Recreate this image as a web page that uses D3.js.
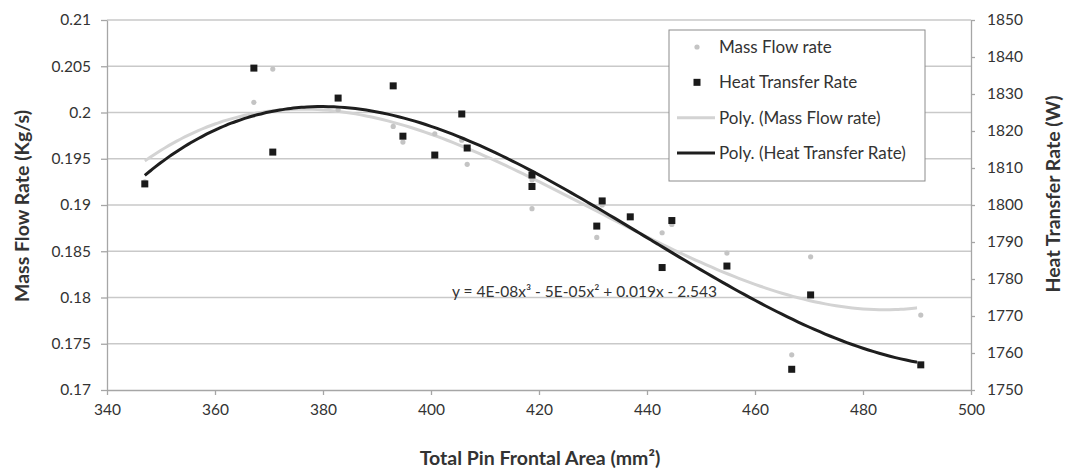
<!DOCTYPE html>
<html>
<head>
<meta charset="utf-8">
<script src="https://cdn.jsdelivr.net/npm/d3@7"></script>
<style>
  body { margin:0; background:#fff; }
  svg text { font-family: Lato, "Open Sans", sans-serif; fill:#333; }
</style>
</head>
<body>
<svg id="chart" width="1067" height="471"></svg>
<script>
// --- data ------------------------------------------------------------------
const frontalArea = [347.0, 367.2, 370.7, 382.8, 393.0, 394.8, 400.7, 405.7, 406.7, 418.7,
                     418.7, 430.7, 431.7, 436.9, 442.8, 444.6, 454.8, 466.8, 470.3, 490.7];
const massFlow    = [0.1925, 0.2011, 0.2047, 0.2003, 0.1985, 0.1968, 0.1977, 0.1970, 0.1944, 0.1927,
                     0.1896, 0.1865, 0.1900, 0.1887, 0.1870, 0.1879, 0.1848, 0.1738, 0.1844, 0.1781];
const heatRate    = [1805.7, 1837.0, 1814.3, 1828.9, 1832.2, 1818.6, 1813.5, 1824.6, 1815.4, 1808.1,
                     1805.0, 1794.3, 1801.1, 1796.8, 1783.1, 1795.8, 1783.5, 1755.6, 1775.7, 1756.8];
const xTicks = [340, 360, 380, 400, 420, 440, 460, 480, 500];
const leftTicks = [0.17, 0.175, 0.18, 0.185, 0.19, 0.195, 0.2, 0.205, 0.21];
const rightTicks = [1750, 1760, 1770, 1780, 1790, 1800, 1810, 1820, 1830, 1840, 1850];
const legendItems = ['Mass Flow rate', 'Heat Transfer Rate', 'Poly. (Mass Flow rate)', 'Poly. (Heat Transfer Rate)'];
const equationText = 'y = 4E-08x³ - 5E-05x² + 0.019x - 2.543';

// --- helpers ---------------------------------------------------------------
// least squares cubic (Excel style "Poly." trendline), x centred for stability
function cubicFit(xs, ys){
  const m = d3.mean(xs);
  const rows = xs.map(x => { const u = (x-m)/50; return [1, u, u*u, u*u*u]; });
  const A = [[0,0,0,0],[0,0,0,0],[0,0,0,0],[0,0,0,0]], b = [0,0,0,0];
  rows.forEach((r,k)=>{
    for(let i=0;i<4;i++){ b[i]+=r[i]*ys[k]; for(let j=0;j<4;j++) A[i][j]+=r[i]*r[j]; }
  });
  // gaussian elimination
  for(let i=0;i<4;i++){
    for(let k=i+1;k<4;k++){
      const f = A[k][i]/A[i][i];
      for(let j=i;j<4;j++) A[k][j]-=f*A[i][j];
      b[k]-=f*b[i];
    }
  }
  const c=[0,0,0,0];
  for(let i=3;i>=0;i--){
    let s=b[i]; for(let j=i+1;j<4;j++) s-=A[i][j]*c[j];
    c[i]=s/A[i][i];
  }
  return x => { const u=(x-m)/50; return c[0]+c[1]*u+c[2]*u*u+c[3]*u*u*u; };
}

// --- layout ----------------------------------------------------------------
const svg = d3.select('#chart');
const M = {left:107, right:971, top:20, bottom:390};

const x  = d3.scaleLinear().domain([340,500]).range([M.left, M.right]);
const yL = d3.scaleLinear().domain([0.17,0.21]).range([M.bottom, M.top]);
const yR = d3.scaleLinear().domain([1750,1850]).range([M.bottom, M.top]);

// gridlines
svg.append('g').selectAll('line')
  .data(leftTicks.slice(1))
  .join('line')
  .attr('x1', M.left).attr('x2', M.right)
  .attr('y1', d=>yL(d)).attr('y2', d=>yL(d))
  .attr('stroke', '#c9c9c9').attr('stroke-width', 1.5);

// axes
const axisStyle = g => {
  g.select('.domain').attr('stroke', '#a6a6a6').attr('stroke-width', 1.3);
  g.selectAll('.tick line').attr('stroke', '#a6a6a6').attr('stroke-width', 1.3);
  g.selectAll('.tick text').style('font-size', '15.5px').attr('fill', '#404040');
};

svg.append('g').attr('transform', `translate(0,${M.bottom})`)
  .call(d3.axisBottom(x).tickValues(xTicks).tickSize(5).tickSizeOuter(0).tickPadding(9).tickFormat(d3.format('d')))
  .call(axisStyle);

svg.append('g').attr('transform', `translate(${M.left},0)`)
  .call(d3.axisLeft(yL).tickValues(leftTicks).tickSize(6).tickSizeOuter(0).tickPadding(10).tickFormat(d=>String(+d.toFixed(3))))
  .call(axisStyle);

svg.append('g').attr('transform', `translate(${M.right},0)`)
  .call(d3.axisRight(yR).tickValues(rightTicks).tickSize(4).tickSizeOuter(0).tickPadding(12).tickFormat(d3.format('d')))
  .call(axisStyle);

// axis titles
const titleFont = '19.5px';
svg.append('text').attr('transform', `translate(29,206) rotate(-90)`)
  .attr('text-anchor','middle').style('font-size',titleFont).style('font-weight','bold').attr('fill','#222')
  .text('Mass Flow Rate (Kg/s)');
svg.append('text').attr('transform', `translate(1060,194) rotate(-90)`)
  .attr('text-anchor','middle').style('font-size',titleFont).style('font-weight','bold').attr('fill','#222')
  .text('Heat Transfer Rate (W)');
svg.append('text').attr('x', 540).attr('y', 465)
  .attr('text-anchor','middle').style('font-size',titleFont).style('font-weight','bold').attr('fill','#222')
  .text('Total Pin Frontal Area (mm²)');

// --- trendlines ------------------------------------------------------------
const fitMass = cubicFit(frontalArea, massFlow);
const fitHeat = cubicFit(frontalArea, heatRate);
const xs = d3.range(d3.min(frontalArea), d3.max(frontalArea)+0.01, 1);

svg.append('path').datum(xs)
  .attr('d', d3.line().x(d=>x(d)).y(d=>yL(fitMass(d))).curve(d3.curveBasis))
  .attr('fill','none').attr('stroke','#d3d3d3').attr('stroke-width',3);

// --- points ----------------------------------------------------------------
svg.append('g').selectAll('circle')
  .data(frontalArea.map((a,i)=>[a, massFlow[i]]))
  .join('circle')
  .attr('cx', d=>x(d[0])).attr('cy', d=>yL(d[1])).attr('r', 2.6)
  .attr('fill', '#c4c4c4');

svg.append('path').datum(xs)
  .attr('d', d3.line().x(d=>x(d)).y(d=>yR(fitHeat(d))).curve(d3.curveBasis))
  .attr('fill','none').attr('stroke','#1e1e1e').attr('stroke-width',3);

svg.append('g').selectAll('rect')
  .data(frontalArea.map((a,i)=>[a, heatRate[i]]))
  .join('rect')
  .attr('x', d=>x(d[0])-3.5).attr('y', d=>yR(d[1])-3.5)
  .attr('width', 7).attr('height', 7)
  .attr('fill', '#1a1a1a');

// equation label
svg.append('text').attr('x', 452).attr('y', 297)
  .style('font-size','15.5px').attr('fill','#333')
  .text(equationText);

// --- legend ----------------------------------------------------------------
const lg = svg.append('g');
lg.append('rect').attr('x', 669).attr('y', 30).attr('width', 256).attr('height', 151)
  .attr('fill', '#fff').attr('stroke', '#8c8c8c').attr('stroke-width', 1);
const rowY = d3.scalePoint().domain(legendItems).range([47, 153]);
legendItems.forEach((name, i)=>{
  const cy = rowY(name);
  if (i===0) lg.append('circle').attr('cx', 697).attr('cy', cy).attr('r', 2.6).attr('fill', '#c4c4c4');
  if (i===1) lg.append('rect').attr('x', 693.5).attr('y', cy-3.5).attr('width', 7).attr('height', 7).attr('fill', '#1a1a1a');
  if (i>=2) lg.append('line').attr('x1', 677).attr('x2', 715).attr('y1', cy).attr('y2', cy)
      .attr('stroke', i===2 ? '#d3d3d3' : '#1e1e1e').attr('stroke-width', 3);
  lg.append('text').attr('x', 719).attr('y', cy).attr('dy', '0.35em')
    .style('font-size', '17px').attr('fill', '#333').text(name);
});
</script>
</body>
</html>
